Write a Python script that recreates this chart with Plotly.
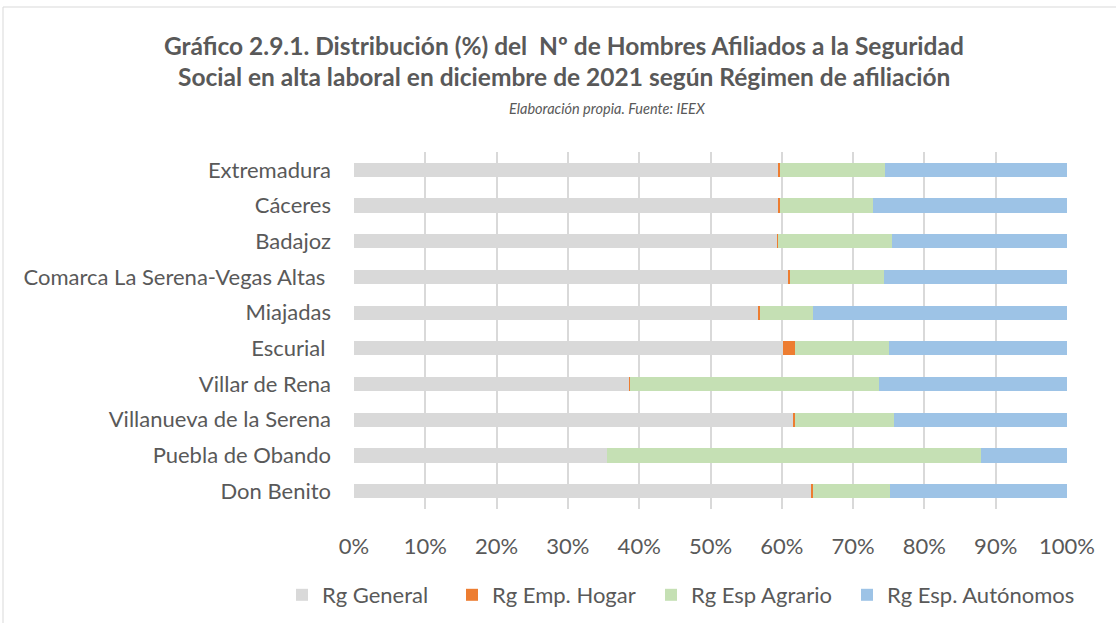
import plotly.graph_objects as go

categories = ["Extremadura", "Cáceres", "Badajoz", "Comarca La Serena-Vegas Altas ",
              "Miajadas", "Escurial ", "Villar de Rena", "Villanueva de la Serena",
              "Puebla de Obando", "Don Benito"]
rg_general = [59.6, 59.6, 59.4, 61.0, 56.7, 60.1, 38.6, 61.6, 35.5, 64.2]
rg_hogar = [0.1, 0.2, 0.1, 0.15, 0.3, 1.7, 0.05, 0.2, 0.05, 0.2]
rg_agrario = [14.8, 13.0, 15.9, 13.15, 7.4, 13.2, 34.95, 14.0, 52.45, 10.8]
rg_autonomos = [25.5, 27.2, 24.6, 25.7, 35.6, 25.0, 26.4, 24.2, 12.0, 24.8]
series_names = ["Rg General", "Rg Emp. Hogar", "Rg Esp Agrario", "Rg Esp. Autónomos"]
series_colors = ["#d9d9d9", "#ed7d31", "#c5e0b4", "#9dc3e6"]
x_ticks = [0, 10, 20, 30, 40, 50, 60, 70, 80, 90, 100]
x_tick_labels = [f"{v}%" for v in x_ticks]

FONT = "Lato, 'Open Sans', sans-serif"
TXT = "#595959"

L, R, T, B = 354, 49, 152, 114
W, H = 1116, 623
ph = H - T - B
pw = W - L - R

def px_x(x):
    return (x - L) / pw

def px_y(y):
    return (H - B - y) / ph

legend_ids = ["legend", "legend2", "legend3", "legend4"]
legend_left_px = [282, 452, 651, 847]

fig = go.Figure()
for name, vals, col, lid in zip(series_names, [rg_general, rg_hogar, rg_agrario, rg_autonomos],
                                series_colors, legend_ids):
    fig.add_trace(go.Bar(y=categories, x=vals, name=name, orientation="h", legend=lid,
                         marker=dict(color=col, line=dict(width=0))))

legend_style = dict(orientation="h", xref="paper", yref="paper", xanchor="left",
                    y=px_y(595), yanchor="middle", bgcolor="rgba(0,0,0,0)",
                    font=dict(size=22, color=TXT, family=FONT),
                    itemsizing="constant", itemwidth=30)

fig.update_layout(
    width=W, height=H, barmode="stack", bargap=0.6,
    margin=dict(l=L, r=R, t=T, b=B, autoexpand=False),
    paper_bgcolor="white", plot_bgcolor="white",
    font=dict(family=FONT, color=TXT, size=22),
    xaxis=dict(range=[0, 100], tickvals=x_ticks, ticktext=x_tick_labels,
               showgrid=True, gridcolor="#d9d9d9", gridwidth=1.5, zeroline=False,
               showline=False, ticks="", ticklabelstandoff=22,
               tickfont=dict(size=22, color=TXT, family=FONT)),
    yaxis=dict(autorange="reversed", showgrid=False, showline=False, ticks="",
               ticklabelstandoff=22, tickfont=dict(size=22, color=TXT, family=FONT)),
    showlegend=True,
)
for lid, lx in zip(legend_ids, legend_left_px):
    fig.update_layout({lid: dict(legend_style, x=px_x(lx))})

fig.add_annotation(text="<b>Gráfico 2.9.1. Distribución (%) del  Nº de Hombres Afiliados a la Seguridad</b>",
                   x=px_x(564), y=px_y(46), xref="paper", yref="paper", showarrow=False,
                   font=dict(size=24.5, color=TXT, family=FONT), xanchor="center", yanchor="middle")
fig.add_annotation(text="<b>Social en alta laboral en diciembre de 2021 según Régimen de afiliación</b>",
                   x=px_x(564), y=px_y(76), xref="paper", yref="paper", showarrow=False,
                   font=dict(size=24.5, color=TXT, family=FONT), xanchor="center", yanchor="middle")
fig.add_annotation(text="<i>Elaboración propia. Fuente: IEEX</i>",
                   x=px_x(607), y=px_y(108), xref="paper", yref="paper", showarrow=False,
                   font=dict(size=14.5, color=TXT, family=FONT), xanchor="center", yanchor="middle")

fig.add_shape(type="rect", xref="paper", yref="paper",
              x0=px_x(3), x1=px_x(1130), y0=px_y(640), y1=px_y(7),
              line=dict(color="#d9d9d9", width=1), fillcolor="rgba(0,0,0,0)", layer="below")

fig.write_html("out.html", config={"displayModeBar": False},
               post_script="document.body.style.margin='0';")
